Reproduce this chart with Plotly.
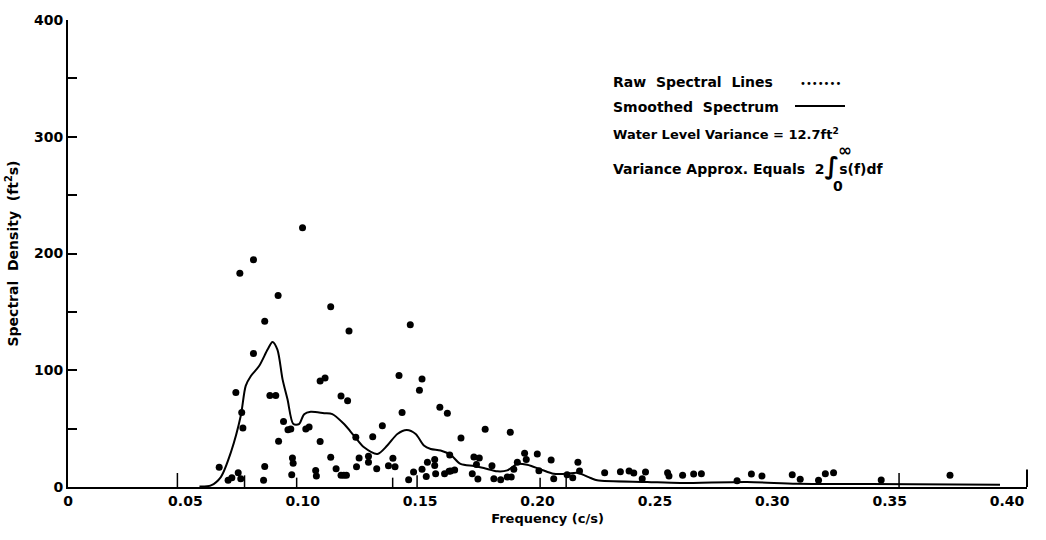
import plotly.graph_objects as go

# Raw spectral estimates (frequency in c/s, density in ft^2 s)
raw_freq = [
    0.0999, 0.0790, 0.0732, 0.0895, 0.1119, 0.0838, 0.1197, 0.1458, 0.0790, 0.0860,
    0.0885, 0.0715, 0.1074, 0.1095, 0.1163, 0.1191, 0.1410, 0.0740, 0.0745, 0.0918,
    0.0937, 0.0949, 0.1013, 0.1027, 0.0897, 0.1074, 0.1339, 0.1298, 0.1226, 0.1119,
    0.1240, 0.1280, 0.1280, 0.1384, 0.1365, 0.1393, 0.1315, 0.1229, 0.1142, 0.1163,
    0.1175, 0.1186, 0.0956, 0.0959, 0.0953, 0.0838, 0.1055, 0.1058, 0.0833, 0.0644,
    0.0725, 0.0736, 0.0698, 0.0682, 0.1508, 0.1497, 0.1423, 0.1584, 0.1616, 0.1531,
    0.1562, 0.1562, 0.1508, 0.1472, 0.1526, 0.1451, 0.1604, 0.1623, 0.1566, 0.1674,
    0.1777, 0.1884, 0.1729, 0.1752, 0.1626, 0.1806, 0.1945, 0.1952, 0.1999, 0.2058,
    0.1914, 0.1899, 0.2006, 0.2172, 0.2179, 0.2286, 0.2353, 0.2390, 0.2410, 0.2460,
    0.2554, 0.1722, 0.1746, 0.1814, 0.1843, 0.1871, 0.1888, 0.2069, 0.2126, 0.2150,
    0.1740, 0.1630, 0.1647, 0.2560, 0.2618, 0.2665, 0.2698, 0.2911, 0.2956, 0.3085,
    0.3119, 0.2850, 0.2446, 0.3226, 0.3261, 0.3757, 0.3464, 0.3197,
]
raw_density = [
    222, 194.6, 183, 164, 154.3, 141.9, 133.6, 139, 114.3, 78.3,
    78.3, 80.9, 90.8, 93.4, 78, 73.8, 95.6, 63.8, 50.5, 56.2,
    49.1, 49.6, 49.6, 51.3, 39.1, 38.9, 52.5, 43.1, 42.6, 25.5,
    24.9, 26.4, 21.3, 24.7, 18.1, 17.3, 15.6, 17.3, 15.6, 10,
    10, 10, 24.9, 20.4, 10.5, 17.6, 14.2, 9.4, 5.7, 17,
    12.2, 7.1, 7.9, 5.7, 92.5, 82.8, 63.8, 68.3, 63.2, 21.3,
    23.6, 18.5, 15.1, 12.8, 9.1, 6.2, 11.3, 13.4, 11.3, 42,
    49.4, 46.8, 25.8, 24.9, 27.5, 18.1, 28.9, 23.6, 28.3, 23.2,
    21.3, 15.1, 13.9, 21.3, 13.6, 12.2, 13, 13.6, 11.9, 12.8,
    12.2, 11.3, 6.8, 7.1, 6.2, 8.5, 8.5, 7.1, 10.5, 7.9,
    19.3, 13.6, 14.5, 9.4, 10, 11.1, 11.3, 11.1, 9.4, 10.5,
    6.6, 5.4, 7.1, 11.3, 12.2, 10, 6, 5.7,
]

# Short spectral lines standing on the baseline
stub_freq = [0.0466, 0.0752, 0.0974, 0.1383, 0.1487, 0.2011, 0.2122, 0.3540]
stub_density = [12, 10, 8, 8, 10, 8, 8, 12]

# Smoothed spectrum
smooth_freq = [
    0.0560, 0.0609, 0.0651, 0.0694, 0.0736, 0.0757, 0.0779, 0.0814, 0.0850, 0.0871,
    0.0892, 0.0914, 0.0935, 0.0960, 0.0984, 0.1006, 0.1034, 0.1091, 0.1126, 0.1176,
    0.1218, 0.1261, 0.1318, 0.1360, 0.1403, 0.1443, 0.1481, 0.1516, 0.1545, 0.1587,
    0.1630, 0.1672, 0.1729, 0.1771, 0.1829, 0.1871, 0.1914, 0.1956, 0.2013, 0.2069,
    0.2126, 0.2169, 0.2226, 0.2254, 0.2467, 0.2609, 0.2892, 0.3105, 0.3417, 0.3970,
]
smooth_density = [
    0.5, 1.4, 8.5, 29.8, 61, 86.6, 95.1, 103.6, 117.7, 124.3,
    117.7, 92.2, 75.1, 53.9, 53.9, 62.4, 64.4, 63.2, 62.4, 53.9,
    44, 34, 28.3, 35.5, 45.4, 48.8, 45.4, 35.5, 32.6, 31.2,
    27.5, 19.8, 17.9, 16.2, 13.4, 14.2, 19.8, 19, 15.1, 11.3,
    11.3, 12.2, 7.7, 5.7, 4.3, 3.4, 4.3, 2.8, 2.6, 2.0,
]

x_tick_vals = [0, 0.05, 0.10, 0.15, 0.20, 0.25, 0.30, 0.35, 0.40]
x_tick_text = ["0", "0.05", "0.10", "0.15", "0.20", "0.25", "0.30", "0.35", "0.40"]
y_tick_vals = [0, 100, 200, 300, 400]

FONT = "DejaVu Sans"
INK = "black"

fig = go.Figure()

# vertical segments, separated by gaps
stub_x, stub_y = [], []
for f, s in zip(stub_freq, stub_density):
    stub_x += [f, f, None]
    stub_y += [0, s, None]
fig.add_trace(go.Scatter(
    x=stub_x, y=stub_y, mode="lines",
    line=dict(color=INK, width=1.5),
    showlegend=False, hoverinfo="skip",
))

fig.add_trace(go.Scatter(
    x=smooth_freq, y=smooth_density, mode="lines",
    line=dict(color=INK, width=2, shape="spline", smoothing=0.8),
    showlegend=False, hoverinfo="skip",
))
fig.add_trace(go.Scatter(
    x=raw_freq, y=raw_density, mode="markers",
    marker=dict(color=INK, size=7),
    showlegend=False, hoverinfo="skip",
))

fig.update_xaxes(
    range=[0, 0.4085], tickvals=x_tick_vals, ticktext=x_tick_text,
    showline=True, linecolor=INK, linewidth=2, ticks="",
    showgrid=False, zeroline=False,
    tickfont=dict(family=FONT, size=14, color=INK, weight="bold"),
    title=dict(text="Frequency (c/s)", font=dict(family=FONT, size=13, color=INK, weight="bold"), standoff=6),
)
fig.update_yaxes(
    range=[0, 400], tickvals=y_tick_vals,
    showline=True, linecolor=INK, linewidth=2,
    ticks="inside", ticklen=9, tickwidth=2, tickcolor=INK,
    minor=dict(dtick=50, tick0=0, ticks="inside", ticklen=9, tickwidth=2, tickcolor=INK),
    showgrid=False, zeroline=False,
    tickfont=dict(family=FONT, size=14, color=INK, weight="bold"),
    title=dict(text="Spectral  Density  (ft<sup>2</sup>s)",
               font=dict(family=FONT, size=14, color=INK, weight="bold"), standoff=12),
)

# Closing tick at the right end of the frequency axis
fig.add_shape(type="line", xref="paper", yref="y", x0=1, x1=1, y0=0, y1=15,
              line=dict(color=INK, width=2))

# Key and notes in the upper right
def px_x(p):
    return (p - 68) / 959.0

def px_y(p):
    return (487 - p) / 472.0

note_font = dict(family=FONT, size=14, color=INK, weight="bold")
fig.add_annotation(xref="paper", yref="paper", x=px_x(611), y=px_y(78), xanchor="left", yanchor="middle",
                   text="Raw  Spectral  Lines", showarrow=False, font=note_font)
fig.add_annotation(xref="paper", yref="paper", x=px_x(820), y=px_y(79), xanchor="center", yanchor="middle",
                   text="•••••••", showarrow=False, font=dict(family=FONT, size=10, color=INK))
fig.add_annotation(xref="paper", yref="paper", x=px_x(611), y=px_y(103), xanchor="left", yanchor="middle",
                   text="Smoothed  Spectrum", showarrow=False, font=note_font)
fig.add_shape(type="line", xref="paper", yref="paper", x0=px_x(795), x1=px_x(845), y0=px_y(102), y1=px_y(102),
              line=dict(color=INK, width=2))
fig.add_annotation(xref="paper", yref="paper", x=px_x(611), y=px_y(130), xanchor="left", yanchor="middle",
                   text="Water Level Variance = 12.7ft<sup>2</sup>", showarrow=False,
                   font=dict(family=FONT, size=13, color=INK, weight="bold"))
fig.add_annotation(xref="paper", yref="paper", x=px_x(611), y=px_y(163), xanchor="left", yanchor="middle",
                   text="Variance Approx. Equals  2<span style='font-size:24px'>∫</span>s(f)df",
                   showarrow=False, font=note_font)
fig.add_annotation(xref="paper", yref="paper", x=px_x(845), y=px_y(146), xanchor="center", yanchor="middle",
                   text="∞", showarrow=False, font=dict(family=FONT, size=17, color=INK, weight="bold"))
fig.add_annotation(xref="paper", yref="paper", x=px_x(838), y=px_y(183), xanchor="center", yanchor="middle",
                   text="0", showarrow=False, font=note_font)

fig.update_layout(
    width=1046, height=540,
    margin=dict(l=68, r=19, t=15, b=53),
    paper_bgcolor="white", plot_bgcolor="white",
    showlegend=False,
)

fig.write_html("out.html")
